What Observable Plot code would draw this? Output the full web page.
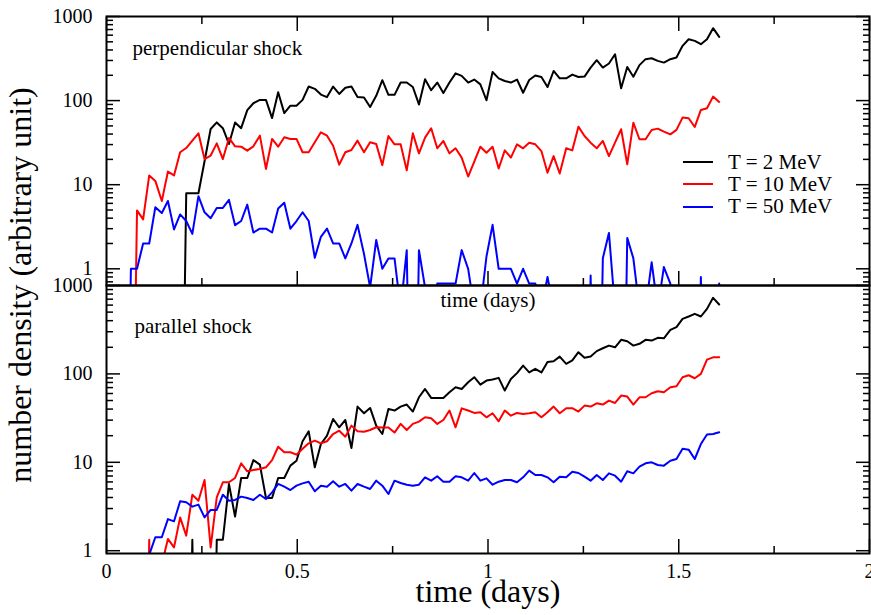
<!DOCTYPE html>
<html>
<head>
<meta charset="utf-8">
<script src="https://cdn.jsdelivr.net/npm/d3@7"></script>
<script src="https://cdn.jsdelivr.net/npm/@observablehq/plot@0.6"></script>
<style>
  html, body { margin: 0; padding: 0; background: #ffffff; }
  #chart { position: relative; width: 871px; height: 615px; overflow: hidden;
           font-family: "Liberation Serif", "DejaVu Serif", "Times New Roman", serif; color: #000; }
  #chart svg { position: absolute; left: 0; }
  #chart svg text { font-family: "Liberation Serif", "DejaVu Serif", "Times New Roman", serif; }
  #ylabel { position: absolute; left: 20px; top: 285px; transform: translate(-50%, -50%) rotate(-90deg);
            white-space: nowrap; font-size: 32px; line-height: 1; }
  .leg-row { position: absolute; display: flex; align-items: center; font-size: 21px; white-space: nowrap; }
  .leg-line { width: 30px; height: 2px; margin-right: 15px; }
</style>
</head>
<body>
<div id="chart"></div>
<script>
// time (days) of each sample
const time = [0.048, 0.064, 0.080, 0.096, 0.112, 0.128, 0.145, 0.161, 0.177, 0.193, 0.209, 0.225, 0.241, 0.257,
  0.273, 0.289, 0.305, 0.321, 0.337, 0.353, 0.369, 0.385, 0.402, 0.418, 0.434, 0.450, 0.466, 0.482, 0.498, 0.514,
  0.530, 0.546, 0.562, 0.578, 0.594, 0.610, 0.626, 0.642, 0.658, 0.675, 0.691, 0.707, 0.723, 0.739, 0.755, 0.771,
  0.787, 0.803, 0.819, 0.835, 0.851, 0.867, 0.883, 0.899, 0.915, 0.931, 0.948, 0.964, 0.980, 0.996, 1.012, 1.028,
  1.044, 1.060, 1.076, 1.092, 1.108, 1.124, 1.140, 1.156, 1.172, 1.188, 1.205, 1.221, 1.237, 1.253, 1.269, 1.285,
  1.301, 1.317, 1.333, 1.349, 1.365, 1.381, 1.397, 1.413, 1.429, 1.445, 1.461, 1.478, 1.494, 1.510, 1.526, 1.542,
  1.558, 1.574, 1.590, 1.606];

// perpendicular shock (top panel)
const perpT2 = [0, 0, 0, 0, 0, 0, 0, 0, 0, 0, 7.9, 7.9, 7.9, 19, 46, 55, 47, 30.5, 55, 47, 77, 93, 102, 102, 62, 126,
  71, 87, 87, 102, 147, 138, 118, 110, 147, 120, 142, 147, 110, 109, 84, 114, 175, 117, 117, 164, 164, 145, 90, 179,
  133, 164, 123, 164, 211, 197, 164, 178, 156, 101, 219, 184, 171, 164, 178, 124, 176, 199, 191, 145, 225, 184, 184,
  204, 191, 193, 247, 302, 247, 276, 356, 140, 251, 192, 264, 311, 319, 297, 283, 311, 325, 448, 537, 513, 468, 537,
  726, 573];
const perpT10 = [0, 0, 4.95, 3.87, 12.9, 11.1, 6.4, 14.3, 12.9, 24.3, 27.3, 33.4, 40.8, 20.2, 22.2, 31, 20.2, 36, 28.6,
  28.3, 25.4, 28.6, 38.3, 15.4, 35, 28.3, 36.6, 35, 35, 24.3, 24.3, 31.9, 42, 38.3, 29.1, 17.3, 24.3, 25.9, 33.4, 24.3,
  31.9, 30.5, 17.1, 37.9, 30.2, 30.2, 14.8, 40.8, 23.6, 36.3, 46.9, 27.1, 33.1, 23.6, 27.1, 21, 12.5, 18.8, 28.3, 24,
  28.3, 15.6, 25.6, 21, 30.2, 27.1, 31.6, 30.2, 25.1, 13.9, 21.9, 13.6, 27.1, 25.6, 49, 37.9, 31.6, 27.1, 33.1, 21.9,
  31.6, 45.6, 17.5, 54.7, 34.7, 34.7, 44.8, 46.4, 42.8, 39.7, 44.8, 62.8, 61.7, 48.6, 77.4, 81, 111.6, 96.4];
const perpT50 = [0, 1, 1, 2, 2, 5.4, 4.6, 6.4, 2.94, 4.43, 3.7, 2.6, 7.3, 4.7, 4.0, 5.3, 5.3, 6.6, 3.3, 3.7, 5.8, 2.7,
  3.0, 3.0, 2.7, 5.2, 6.1, 3.0, 3.7, 4.7, 3.7, 1.35, 2.4, 3.0, 2.0, 2.0, 1.33, 2.0, 3.33, 1.5, 0.6, 2.2, 1.0, 1.33,
  1.33, 0.333, 1.667, 0, 1.667, 0.6, 0, 0.667, 0.667, 0.667, 0.667, 1.667, 1.0, 0.333, 0.333, 1.4, 3.333, 1.0, 1.0,
  1.0, 0.667, 1.0, 0.667, 0.667, 0.333, 0.8, 0.333, 0, 0, 0, 0, 0, 0.83, 0, 1.333, 2.67, 0.333, 0, 2.33, 1.333, 0.333,
  0.333, 1.2, 0.333, 1.05, 0.667, 0, 0, 0, 0, 0.8, 0, 0, 0.667];

// parallel shock (bottom panel)
const paraT2 = [0, 0, 0, 0, 0, 0, 0, 0, 0, 0, 0, 1.33, 0, 0, 0, 1.33, 1.33, 5.69, 2.43, 6.65, 6.65, 10.6, 9.41, 3.95,
  3.95, 6.65, 6.65, 9.17, 10.4, 17.3, 22.4, 8.78, 16.1, 20, 30.9, 24.9, 30.1, 14.5, 42.7, 35.9, 41.2, 26, 20.9, 40.2,
  38.5, 42.7, 45, 37.5, 54.4, 67.6, 53.5, 53.5, 53.5, 62, 70.6, 67.6, 80.5, 91.7, 75.7, 84.1, 86.3, 90.2, 64.8, 87.7,
  102, 124, 104, 114, 104, 136, 139, 157, 130, 142, 176, 152, 157, 181, 195, 209, 200, 243, 234, 209, 219, 243, 238,
  256, 253, 315, 338, 419, 446, 478, 446, 544, 725, 609];
const paraT10 = [0, 0, 0, 0, 1.33, 0, 0.7, 1.36, 1.09, 2.38, 1.48, 4.3, 3.68, 6.31, 1.09, 4.02, 5.94, 5.94, 6.65, 9.75,
  7.91, 8.19, 8.41, 8.78, 10.6, 15, 13, 13, 12.2, 14.2, 16.4, 17.6, 16.4, 17.3, 20.9, 22.8, 19.5, 26, 22.4, 22.2, 23.2,
  24.9, 24.7, 24.7, 21.7, 27.2, 23.2, 27.2, 28.9, 32.3, 31.5, 27.2, 30.1, 38.5, 24.9, 40.8, 38.5, 36.2, 36.8, 32.3,
  35.9, 29.1, 38.5, 33.7, 36.2, 35.2, 35.9, 36.8, 32.3, 36.8, 42.7, 35.9, 40.9, 40.9, 37.5, 43.8, 42.7, 46.5, 45, 49.9,
  46.9, 56.9, 55.4, 45, 54.4, 54.4, 60.4, 63.6, 62, 70.6, 72.5, 91.7, 96.6, 89.3, 100, 145, 154, 154];
const paraT50 = [0, 0, 0, 0, 0.9, 1.42, 1.42, 2.28, 2.15, 3.62, 3.53, 3.15, 3.32, 2.38, 2.89, 2.89, 4.3, 3.68, 3.75,
  4.09, 3.95, 3.75, 4.3, 3.85, 4.57, 5.69, 5.3, 4.86, 5.44, 5.78, 6.04, 4.7, 5.44, 5.3, 6.1, 5.3, 5.69, 4.78, 5.69,
  5.3, 4.99, 6.2, 5.44, 4.38, 6.2, 5.83, 5.58, 5.44, 5.58, 6.76, 6.2, 6.95, 6.04, 6.04, 6.95, 6.76, 6.2, 7.57, 6.2,
  6.59, 5.58, 6.04, 6.31, 6.31, 5.94, 6.76, 8.05, 7.19, 7.19, 6.76, 5.94, 6.88, 6.76, 7.84, 7.57, 6.88, 6.2, 7.19,
  6.31, 7.5, 7.06, 6.04, 7.91, 7.5, 8.93, 9.75, 10.0, 9.33, 9.17, 10.4, 10.9, 14.2, 13.9, 10.9, 16.1, 20.6, 20.9, 21.9];

const seriesNames = ["T = 2 MeV", "T = 10 MeV", "T = 50 MeV"];
const seriesColors = ["#000000", "#ff0000", "#0000ff"];
const panelLabels = ["perpendicular shock", "parallel shock"];
const xLabel = "time (days)";
const yLabel = "number density (arbitrary unit)";
const xMajor = [0, 0.5, 1, 1.5, 2];
const xMinor = [0.25, 0.75, 1.25, 1.75];
const yMajor = [1, 10, 100, 1000];
const yMinorTop = [0.7, 0.8, 0.9, 2, 3, 4, 5, 6, 7, 8, 9, 20, 30, 40, 50, 60, 70, 80, 90, 200, 300, 400, 500, 600, 700, 800, 900];
const yMinorBottom = [2, 3, 4, 5, 6, 7, 8, 9, 20, 30, 40, 50, 60, 70, 80, 90, 200, 300, 400, 500, 600, 700, 800, 900];

const ZERO = 1e-4; // a zero count lies far below the log axis
const FONT = '"Liberation Serif", "DejaVu Serif", "Times New Roman", serif';

function toRows(list) {
  const out = [];
  list.forEach((vals, s) => vals.forEach((v, i) => {
    if (v == null) return;
    out.push({t: time[i], v: v === 0 ? ZERO : v, series: seriesNames[s]});
  }));
  return out;
}

function tickMarks(minorY, withTop, withXLabels) {
  const base = {label: null, strokeWidth: 1.5, fontFamily: FONT};
  const m = [
    Plot.axisY(yMajor, {...base, anchor: "left", tickSize: -14, tickPadding: 28, tickFormat: d => String(d), fontSize: 20}),
    Plot.axisY(minorY, {...base, anchor: "left", tickSize: -7, fill: "none", tickFormat: () => ""}),
    Plot.axisY(yMajor, {...base, anchor: "right", tickSize: -14, fill: "none", tickFormat: () => ""}),
    Plot.axisY(minorY, {...base, anchor: "right", tickSize: -7, fill: "none", tickFormat: () => ""}),
    withXLabels
      ? Plot.axisX(xMajor, {...base, anchor: "bottom", tickSize: -14, tickPadding: 24, tickFormat: d => String(d), fontSize: 20})
      : Plot.axisX(xMajor, {...base, anchor: "bottom", tickSize: -14, fill: "none", tickFormat: () => ""}),
    Plot.axisX(xMinor, {...base, anchor: "bottom", tickSize: -7, fill: "none", tickFormat: () => ""})
  ];
  if (withTop) {
    m.push(Plot.axisX(xMajor, {...base, anchor: "top", tickSize: -14, fill: "none", tickFormat: () => ""}));
    m.push(Plot.axisX(xMinor, {...base, anchor: "top", tickSize: -7, fill: "none", tickFormat: () => ""}));
  }
  return m;
}

const common = {
  width: 871,
  marginLeft: 106,
  marginRight: 2,
  style: {background: "transparent", fontFamily: FONT, fontSize: "20px", color: "#000", overflow: "visible"},
  x: {domain: [0, 2], axis: null},
  color: {domain: seriesNames, range: seriesColors}
};

const topPlot = Plot.plot({
  ...common,
  height: 320,
  marginTop: 16,
  marginBottom: 35,
  y: {type: "log", domain: [0.633, 1000], axis: null},
  marks: [
    Plot.line(toRows([perpT2, perpT10, perpT50]), {x: "t", y: "v", z: "series", stroke: "series", strokeWidth: 2, clip: true}),
    ...tickMarks(yMinorTop, true, false),
    Plot.frame({stroke: "#000", strokeWidth: 2}),
    Plot.text([panelLabels[0]], {text: d => d, frameAnchor: "top-left", dx: 26, dy: 24, lineAnchor: "top", textAnchor: "start", fontSize: 21, fontFamily: FONT}),
    Plot.text([xLabel], {text: d => d, frameAnchor: "bottom", dy: 7, lineAnchor: "top", fontSize: 21, fontFamily: FONT})
  ]
});

const bottomPlot = Plot.plot({
  ...common,
  height: 345,
  marginTop: 15,
  marginBottom: 62,
  y: {type: "log", domain: [0.93, 1000], axis: null},
  marks: [
    Plot.line(toRows([paraT2, paraT10, paraT50]), {x: "t", y: "v", z: "series", stroke: "series", strokeWidth: 2, clip: true}),
    ...tickMarks(yMinorBottom, false, true),
    Plot.frame({stroke: "#000", strokeWidth: 2}),
    Plot.text([panelLabels[1]], {text: d => d, frameAnchor: "top-left", dx: 28, dy: 33, lineAnchor: "top", textAnchor: "start", fontSize: 21, fontFamily: FONT}),
    Plot.text([xLabel], {text: d => d, frameAnchor: "bottom", dy: 26, lineAnchor: "top", fontSize: 32, fontFamily: FONT})
  ]
});

const chart = document.getElementById("chart");
topPlot.style.top = "0px";
bottomPlot.style.top = "270px";
chart.appendChild(topPlot);
chart.appendChild(bottomPlot);

const yl = document.createElement("div");
yl.id = "ylabel";
yl.textContent = yLabel;
chart.appendChild(yl);

// legend (top panel)
const legendCenters = [162.3, 184.2, 206.5];
seriesNames.forEach((name, i) => {
  const row = document.createElement("div");
  row.className = "leg-row";
  row.style.left = "683px";
  row.style.top = (legendCenters[i] - 12) + "px";
  row.style.height = "24px";
  const ln = document.createElement("div");
  ln.className = "leg-line";
  ln.style.background = seriesColors[i];
  const tx = document.createElement("span");
  tx.textContent = name;
  row.appendChild(ln);
  row.appendChild(tx);
  chart.appendChild(row);
});
</script>
</body>
</html>
